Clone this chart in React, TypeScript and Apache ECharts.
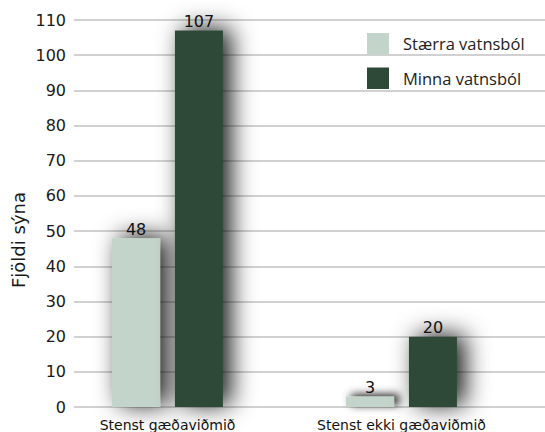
import React, { useEffect, useRef } from "react";
import * as echarts from "echarts";

const categories = ["Stenst gæðaviðmið", "Stenst ekki gæðaviðmið"];
const seriesNames = ["Stærra vatnsból", "Minna vatnsból"];
const largerValues = [48, 3];
const smallerValues = [107, 20];
const yTicks = { min: 0, max: 110, interval: 10 };
const yTitle = "Fjöldi sýna";

const LIGHT = "#c3d4ca";
const DARK = "#2f4938";
const FONT = "DejaVu Sans";

export default function App() {
  const ref = useRef<HTMLDivElement>(null);
  useEffect(() => {
    if (!ref.current) return;
    const chart = echarts.init(ref.current, null, { renderer: "svg" });
    const shadow = {
      shadowColor: "rgba(0,0,0,0.9)",
      shadowBlur: 24,
      shadowOffsetX: 8,
      shadowOffsetY: -2,
    };
    // short bars get a tighter blur so the SVG filter region does not clip it
    const toData = (vals: number[]) =>
      vals.map((v) => (v < 10 ? { value: v, itemStyle: { shadowBlur: 9, shadowOffsetX: 5 } } : v));
    const label = {
      show: true,
      position: "top" as const,
      distance: 1,
      color: "#111",
      fontFamily: FONT,
      fontSize: 16,
    };
    chart.setOption({
      animation: false,
      backgroundColor: "#fff",
      grid: [
        { left: 74, right: 0, top: 20, bottom: 25 },
        { left: 50.5, right: 26.5, top: 20, bottom: 25 },
      ],
      xAxis: [
        { gridIndex: 0, type: "value", show: false, min: 0, max: 1 },
        {
          gridIndex: 1,
          type: "category",
          data: categories,
          axisLine: { show: false },
          axisTick: { show: false },
          axisLabel: { color: "#111", fontFamily: FONT, fontSize: 14, margin: 11 },
        },
      ],
      yAxis: [
        {
          gridIndex: 0,
          type: "value",
          min: yTicks.min,
          max: yTicks.max,
          interval: yTicks.interval,
          axisLine: { show: false },
          axisTick: { show: false },
          axisLabel: { color: "#1a1a1a", fontFamily: FONT, fontSize: 16, margin: 8 },
          splitLine: { show: true, lineStyle: { color: "#c2c2c2", width: 1.5 } },
        },
        {
          gridIndex: 1,
          type: "value",
          min: yTicks.min,
          max: yTicks.max,
          interval: yTicks.interval,
          show: false,
          splitLine: { show: false },
        },
      ],
      legend: {
        data: seriesNames,
        orient: "vertical",
        left: 367,
        top: 33,
        padding: 0,
        itemWidth: 22,
        itemHeight: 21.5,
        itemGap: 13,
        icon: "rect",
        itemStyle: { shadowBlur: 0, shadowOffsetX: 0, shadowOffsetY: 0, shadowColor: "transparent" },
        textStyle: { color: "#222", fontFamily: "Open Sans", fontSize: 16.5, padding: [0, 0, 0, 9] },
      },
      graphic: [
        {
          type: "text",
          x: 18.5,
          y: 240,
          rotation: Math.PI / 2,
          style: {
            text: yTitle,
            fill: "#1a1a1a",
            font: `18px "${FONT}"`,
            align: "center",
            verticalAlign: "middle",
          },
        },
      ],
      series: [
        {
          name: seriesNames[0],
          type: "bar",
          xAxisIndex: 1,
          yAxisIndex: 1,
          data: toData(largerValues),
          barWidth: 48,
          barGap: "31%",
          itemStyle: { color: LIGHT, ...shadow },
          label,
        },
        {
          name: seriesNames[1],
          type: "bar",
          xAxisIndex: 1,
          yAxisIndex: 1,
          data: toData(smallerValues),
          barWidth: 48,
          barGap: "31%",
          itemStyle: { color: DARK, ...shadow },
          label,
        },
      ],
    });
    return () => chart.dispose();
  }, []);
  return (
    <div
      ref={ref}
      style={{ position: "fixed", left: 0, top: 0, width: 545, height: 432 }}
    />
  );
}
